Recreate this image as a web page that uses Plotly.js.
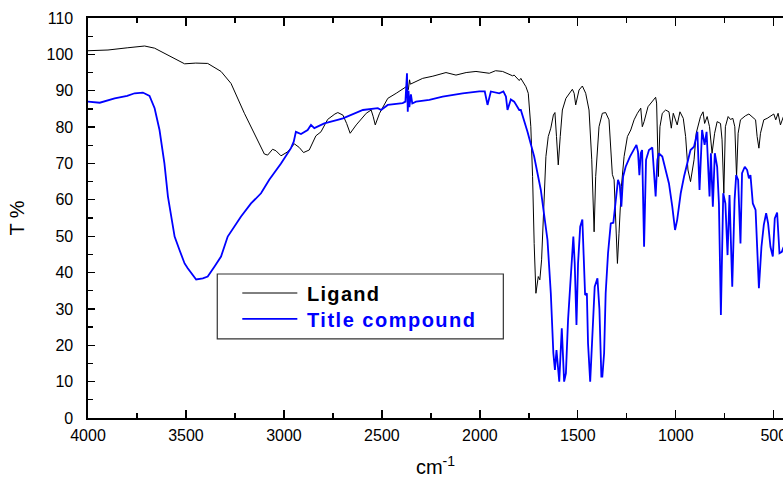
<!DOCTYPE html>
<html>
<head>
<meta charset="utf-8">
<script src="https://cdn.plot.ly/plotly-3.0.1.min.js"></script>
<style>html,body{margin:0;padding:0;background:#fff;}#chart{width:783px;height:479px;}</style>
</head>
<body>
<div id="chart"></div>
<script>
// Ligand spectrum (wavenumber cm-1, transmittance %)
var ligandWn = [4000,3898,3800,3711,3660,3576,3507,3450,3389,3321,3270,3202,3134,3100,3083,3058,3041,3015,2981,2947,2922,2900,2871,2837,2811,2777,2740,2725,2699,2680,2662,2631,2580,2555,2545,2534,2512,2470,2427,2376,2365,2359,2355,2292,2240,2173,2122,2070,2020,1990,1952,1920,1884,1833,1825,1799,1791,1765,1753,1740,1731,1723,1714,1702,1694,1685,1672,1663,1651,1638,1625,1617,1609,1600,1590,1579,1561,1545,1528,1519,1511,1494,1477,1460,1443,1429,1417,1409,1392,1375,1358,1341,1324,1315,1307,1298,1290,1278,1264,1247,1230,1213,1196,1179,1171,1162,1142,1128,1115,1103,1098,1089,1081,1069,1052,1035,1023,1013,993,979,962,950,938,925,907,896,874,861,853,840,828,815,802,789,772,764,755,747,733,721,709,699,690,682,670,645,627,611,593,585,576,568,551,534,517,500,490,478,466,459,450];
var ligandT  = [101.0,101.2,101.8,102.3,101.7,99.4,97.4,97.6,97.5,95.3,92.0,83.8,76.5,72.6,72.3,73.9,73.5,72.1,73.2,75.4,74.4,73.0,73.7,77.6,78.7,82.1,83.6,84.0,83.3,81.0,78.3,80.6,83.8,84.7,83.0,80.6,83.8,87.9,89.3,91.1,90.3,93.0,91.8,93.4,94.0,95.0,94.3,95.0,95.3,95.0,94.8,95.5,95.3,94.1,94.3,92.8,93.4,91.1,89.3,80.1,66.4,48.0,34.3,38.9,38.0,43.5,60.0,71.9,77.4,79.7,83.3,84.0,77.4,69.6,77.4,84.7,87.9,89.3,90.4,89.3,86.1,90.2,91.3,89.3,84.7,71.0,51.2,66.4,80.1,83.8,84.0,82.0,67.0,65.5,54.5,42.5,50.8,63.6,71.9,77.4,79.2,82.0,83.8,85.2,80.1,81.5,85.6,86.6,87.5,88.2,86.6,66.4,80.1,83.8,84.7,84.2,79.7,83.8,80.6,84.2,82.4,77.4,68.2,65.0,71.0,78.3,82.9,84.2,81.0,82.9,80.1,72.8,78.3,81.5,81.0,76.5,61.8,80.1,82.9,82.1,82.4,80.1,66.4,78.3,82.0,83.1,83.6,82.9,82.0,77.4,74.2,78.3,82.0,82.4,82.9,83.6,82.0,83.8,80.6,81.5,83.0];

// Title compound spectrum (wavenumber cm-1, transmittance %)
var compoundWn = [4000,3940,3864,3800,3762,3720,3686,3660,3635,3610,3592,3576,3558,3533,3507,3491,3448,3414,3389,3355,3321,3287,3253,3219,3168,3117,3075,3015,2964,2950,2939,2913,2879,2862,2845,2794,2726,2699,2597,2521,2504,2470,2394,2380,2372,2368,2364,2360,2352,2345,2326,2258,2190,2088,2003,1975,1961,1944,1901,1880,1867,1859,1842,1825,1799,1791,1757,1723,1689,1672,1655,1638,1625,1617,1609,1595,1582,1570,1561,1550,1539,1533,1523,1516,1507,1499,1488,1477,1468,1463,1454,1448,1437,1426,1414,1400,1390,1380,1375,1366,1358,1346,1332,1319,1307,1295,1286,1278,1269,1256,1234,1213,1201,1193,1186,1179,1172,1162,1152,1137,1120,1103,1094,1086,1069,1052,1035,1018,1004,993,975,958,941,925,907,890,879,866,853,843,828,821,811,801,789,780,770,758,747,736,726,712,700,692,682,670,662,648,636,627,619,607,593,585,576,563,551,539,529,517,505,495,483,471,459,450];
var compoundT  = [87.0,86.7,87.9,88.6,89.3,89.5,88.6,85.2,79.2,70.0,60.9,55.4,49.9,46.2,42.5,41.2,38.1,38.4,38.9,41.6,44.4,49.9,52.6,55.4,59.0,61.8,65.5,70.0,74.2,76.0,78.7,78.1,79.2,80.6,79.7,81.0,82.0,82.4,84.7,85.2,84.7,86.1,86.6,87.0,94.8,84.2,90.0,85.5,89.0,86.5,87.0,87.5,88.4,89.3,89.8,89.8,86.1,89.8,89.3,89.8,88.4,84.7,87.6,87.0,84.7,84.7,78.7,71.9,62.7,56.3,49.0,34.3,17.8,13.2,18.7,10.0,24.7,10.0,12.3,27.0,35.2,41.2,49.9,42.5,25.6,42.5,52.6,54.6,43.5,33.8,34.3,20.5,10.0,22.4,36.1,38.4,30.0,11.4,11.4,17.8,34.3,45.3,53.5,53.7,59.0,65.5,64.1,58.1,66.4,69.1,71.9,74.2,75.1,73.2,66.8,72.8,73.7,47.1,71.0,73.7,74.4,60.9,71.0,72.8,71.9,68.2,64.5,58.1,51.7,54.5,61.8,66.4,70.0,73.7,74.6,78.7,62.7,79.2,75.1,78.7,60.9,72.8,58.1,72.8,69.1,59.0,28.3,61.8,59.0,44.8,61.3,36.1,60.0,66.8,65.5,48.0,67.3,69.1,68.2,65.9,66.8,59.0,57.2,45.3,35.7,47.1,53.1,56.3,53.5,47.1,44.4,54.9,56.5,45.3,45.7,47.0];

var seriesNames = ["Ligand", "Title compound"];
var xTickVals = [4000,3500,3000,2500,2000,1500,1000,500];
var yTickVals = [0,10,20,30,40,50,60,70,80,90,100,110];

var FONT = "Liberation Sans, Arial, sans-serif";

var traces = [
  {x: ligandWn, y: ligandT, type: "scatter", mode: "lines", name: seriesNames[0],
   line: {color: "#000000", width: 1}, showlegend: false, hoverinfo: "skip"},
  {x: compoundWn, y: compoundT, type: "scatter", mode: "lines", name: seriesNames[1],
   line: {color: "#0000ff", width: 1.8}, showlegend: false, hoverinfo: "skip"}
];

var layout = {
  width: 783, height: 479,
  margin: {l: 88, r: 0, t: 18, b: 61, pad: 0},
  paper_bgcolor: "#ffffff", plot_bgcolor: "#ffffff",
  font: {family: FONT, color: "#000000", size: 16},
  xaxis: {
    range: [4000, 453], tickvals: xTickVals, ticktext: xTickVals.map(String),
    ticks: "inside", ticklen: 8, tickwidth: 1.3, tickcolor: "#000",
    minor: {dtick: 250, ticks: "inside", ticklen: 5, tickwidth: 1.3, tickcolor: "#000"},
    showline: true, linecolor: "#000", linewidth: 1.6, mirror: "ticks",
    showgrid: false, zeroline: false,
    tickfont: {family: FONT, size: 16, color: "#000"},
    ticklabelstandoff: 2, ticklabeloverflow: "allow",
    title: {text: "cm<sup>-1</sup>", font: {family: FONT, size: 20, color: "#000"}, standoff: 17},
    automargin: false
  },
  yaxis: {
    range: [0, 110], tickvals: yTickVals, ticktext: yTickVals.map(String),
    ticks: "inside", ticklen: 7, tickwidth: 1.3, tickcolor: "#000",
    minor: {dtick: 5, ticks: "inside", ticklen: 5, tickwidth: 1.3, tickcolor: "#000"},
    showline: true, linecolor: "#000", linewidth: 1.6, mirror: false,
    showgrid: false, zeroline: false,
    tickfont: {family: FONT, size: 16, color: "#000"},
    ticklabelstandoff: 10,
    title: {text: "T %", font: {family: FONT, size: 20, color: "#000"}, standoff: 16},
    automargin: false
  },
  shapes: [
    {type: "rect", xref: "paper", yref: "paper", x0: 0.186, x1: 0.5976, y0: 0.198, y1: 0.36,
     line: {color: "#333333", width: 1.2}, fillcolor: "#ffffff", layer: "above"},
    {type: "line", xref: "paper", yref: "paper", x0: 0.222, x1: 0.3012, y0: 0.3125, y1: 0.3125,
     line: {color: "#000000", width: 1}, layer: "above"},
    {type: "line", xref: "paper", yref: "paper", x0: 0.222, x1: 0.3012, y0: 0.248, y1: 0.248,
     line: {color: "#0000ff", width: 1.8}, layer: "above"}
  ],
  annotations: [
    {xref: "paper", yref: "paper", x: 0.3122, y: 0.31, xanchor: "left", yanchor: "middle",
     showarrow: false, text: "<b><span style='letter-spacing:1.3px'>" + seriesNames[0] + "</span></b>",
     font: {family: FONT, size: 20, color: "#000000"}},
    {xref: "paper", yref: "paper", x: 0.3122, y: 0.246, xanchor: "left", yanchor: "middle",
     showarrow: false, text: "<b><span style='letter-spacing:1.5px'>" + seriesNames[1] + "</span></b>",
     font: {family: FONT, size: 20, color: "#0000ff"}}
  ]
};

Plotly.newPlot("chart", traces, layout, {displayModeBar: false, staticPlot: true});
</script>
</body>
</html>
